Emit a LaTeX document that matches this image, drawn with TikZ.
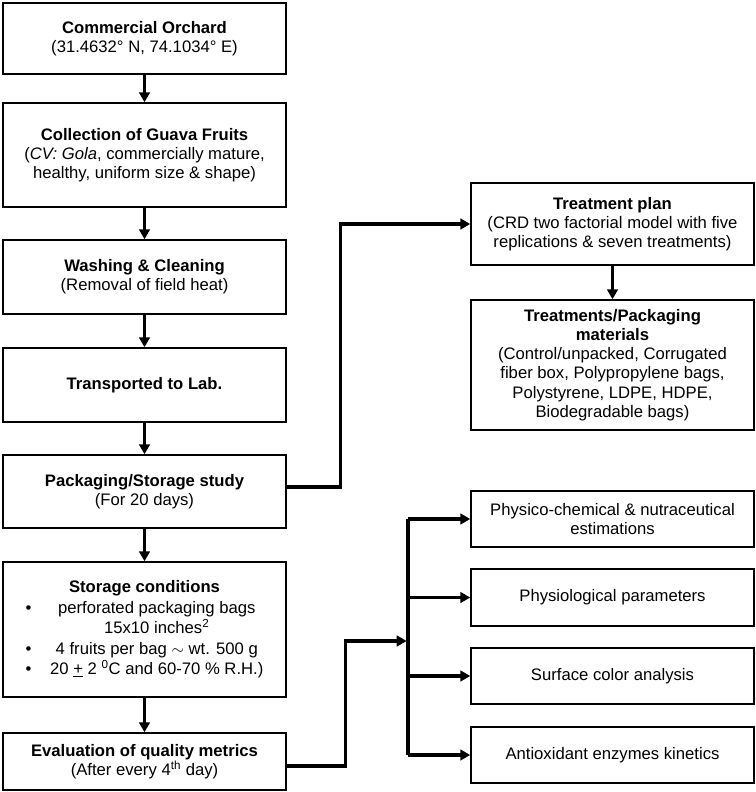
\documentclass[tikz,border=0pt]{standalone}
\usepackage{fontspec}
\setmainfont{Liberation Sans}
\usetikzlibrary{arrows.meta}

\tikzset{
  stepbox/.style={draw, line width=1.1pt, inner sep=2pt, align=center,
    minimum width=212.25pt, minimum height=#1*0.75pt,
    font=\fontsize{12.5}{14.4}\selectfont},
  flow/.style={line width=2.5pt, -{Triangle[length=7.5pt,width=8pt]}},
  busline/.style={line width=2.5pt}
}

\begin{document}
\begin{tikzpicture}[x=0.75pt,y=-0.75pt]
        \useasboundingbox (0,0) rectangle (756,792);
        % main column
        \node[stepbox=71] (orchard) at (144.5,38.5)
          {\textbf{Commercial Orchard}\\(31.4632° N, 74.1034° E)};
        \node[stepbox=104] (collect) at (144.5,155)
          {\textbf{Collection of Guava Fruits}\\(\textit{CV: Gola}, commercially mature,\\healthy, uniform size \& shape)};
        \node[stepbox=74] (wash) at (144.5,277)
          {\textbf{Washing \& Cleaning}\\(Removal of field heat)};
        \node[stepbox=74] (lab) at (144.5,385)
          {\textbf{Transported to Lab.}};
        \node[stepbox=73] (study) at (144.5,491.5)
          {\textbf{Packaging/Storage study}\\(For 20 days)};
        \node[stepbox=135] (store) at (144.5,629.5)
          {\renewcommand{\arraystretch}{1.07}%
           \begin{tabular}{@{}c@{\hspace{14pt}}c@{}}
            \multicolumn{2}{c}{\textbf{Storage conditions}}\\
            • & perforated packaging bags\\
              & 15x10 inches\textsuperscript{2}\\
            • & 4 fruits per bag $\sim$ wt. 500 g\\
            • & 20 \underline{+} 2 \textsuperscript{0}C and 60-70 \% R.H.)
          \end{tabular}};
        \node[stepbox=57] (eval) at (144.5,761.5)
          {\textbf{Evaluation of quality metrics}\\(After every 4\textsuperscript{th} day)};
        % right column
        \node[stepbox=82] (plan) at (612.5,224)
          {\textbf{Treatment plan}\\(CRD two factorial model with five\\replications \& seven treatments)};
        \node[stepbox=130] (mater) at (612.5,365)
          {\textbf{Treatments/Packaging}\\\textbf{materials}\\(Control/unpacked, Corrugated\\fiber box, Polypropylene bags,\\Polystyrene, LDPE, HDPE,\\Biodegradable bags)};
        \node[stepbox=56] (phys) at (612.5,519)
          {Physico-chemical \& nutraceutical\\estimations};
        \node[stepbox=57] (physio) at (612.5,597.5)
          {Physiological parameters};
        \node[stepbox=56] (color) at (612.5,676)
          {Surface color analysis};
        \node[stepbox=56] (enzyme) at (612.5,755)
          {Antioxidant enzymes kinetics};

        \coordinate (bus) at (408,641);

        \foreach \a/\b in {orchard/collect,collect/wash,wash/lab,lab/study,study/store,store/eval,plan/mater}
        \draw[flow] (\a.south) -- (\b.north);

        \draw[flow] ([yshift=3.4pt]study.east) -- ++(54,0) |- (plan.west);
        \draw[flow] ([yshift=-3.4pt]eval.east) -- ++(59,0) |- ([xshift=-1pt]bus);
        \draw[busline] (phys.west -| bus) -- (enzyme.west -| bus);
        \foreach \n in {phys,physio,color,enzyme}
        \draw[flow] (\n.west -| bus) -- (\n.west);
        \end{tikzpicture}
\end{document}
